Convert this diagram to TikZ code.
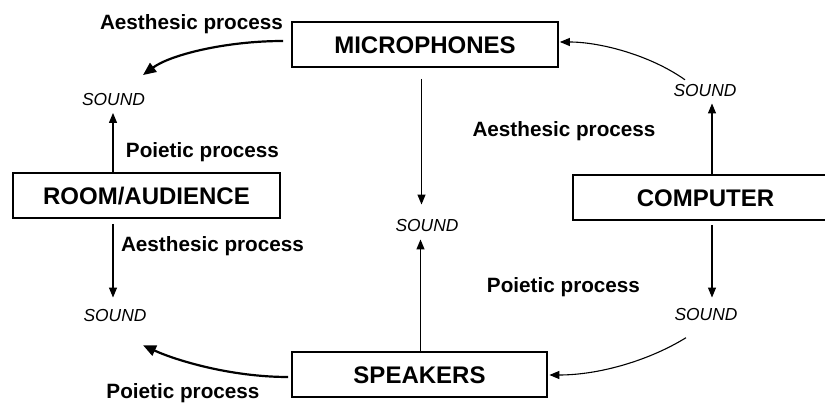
\documentclass[tikz,border=0pt]{standalone}
\usepackage{fontspec}
\setmainfont{Liberation Sans}
\usetikzlibrary{arrows.meta}
\begin{document}
\begin{tikzpicture}[x=1pt,y=-1pt,
 box/.style={draw,line width=1.7pt,font=\fontsize{24}{28}\selectfont\bfseries,text height=17.2pt,text depth=0pt,inner sep=0pt,minimum height=45pt},
 snd/.style={font=\fontsize{17.4}{20}\selectfont\itshape,inner sep=0pt,text height=12.5pt,text depth=0pt},
 lbl/.style={font=\fontsize{20.7}{24}\selectfont\bfseries,inner sep=0pt,anchor=base},
 thinarr/.style={line width=1.1pt,-{Triangle[length=10pt,width=8pt]}},
 thickarr/.style={line width=2.2pt,-{Triangle[length=13pt,width=11pt]}}]
\useasboundingbox (0,0) rectangle (825,403);
% boxes
\node[box,minimum width=266pt] (mic) at (425,44.5) {MICROPHONES};
\node[box,minimum width=255pt] (spk) at (419.5,374.5) {SPEAKERS};
\node[box,minimum width=267pt] (room) at (146.5,195.5) {ROOM/AUDIENCE};
\node[box,minimum width=265pt] (comp) at (705.5,197.5) {COMPUTER};
% sounds
\node[snd] (s1) at (113.5,99.5) {SOUND};
\node[snd] (s2) at (705,90) {SOUND};
\node[snd] (s3) at (427,225) {SOUND};
\node[snd] (s4) at (115,315) {SOUND};
\node[snd] (s5) at (706,314) {SOUND};
% labels
\node[lbl] (l1) at (191.5,29.5) {Aesthesic process};
\node[lbl] (l2) at (202.5,157.5) {Poietic process};
\node[lbl] (l3) at (212.5,251.5) {Aesthesic process};
\node[lbl] (l4) at (183,399) {Poietic process};
\node[lbl] (l5) at (564,137) {Aesthesic process};
\node[lbl] (l6) at (563.5,293) {Poietic process};
% straight arrows
\draw[thinarr] ([xshift=-0.5pt]s1.south |- room.north) -- ([xshift=-0.5pt,yshift=-7pt]s1.south);
\draw[thinarr] ([xshift=-2pt,yshift=-5pt]s4.north |- room.south) -- ([xshift=-2pt,yshift=11pt]s4.north);
\draw[thinarr] ([xshift=-5.5pt,yshift=-11pt]s3.north |- mic.south) -- ([xshift=-5.5pt,yshift=14pt]s3.north);
\draw[thinarr] ([xshift=-6.5pt]s3.south |- spk.north) -- ([xshift=-6.5pt,yshift=-8pt]s3.south);
\draw[thinarr] ([xshift=7pt]s2.south |- comp.north) -- ([xshift=7pt,yshift=-7pt]s2.south);
\draw[thinarr] ([xshift=6pt,yshift=-4pt]s5.north |- comp.south) -- ([xshift=6pt,yshift=10pt]s5.north);
% curved arrows
\draw[thickarr] ([xshift=-8pt,yshift=3.5pt]mic.west) .. controls (225,41) and (170,55) .. ([xshift=29.5pt,yshift=18pt]s1.north);
\draw[thinarr] ([xshift=-20pt,yshift=3.75pt]s2.north) .. controls (650,55) and (600,42) .. ([xshift=1pt,yshift=2.5pt]mic.east);
\draw[thickarr] ([xshift=-3pt,yshift=-2.5pt]spk.west) .. controls (230,377) and (175,360) .. ([xshift=28pt,yshift=-23.75pt]s4.south);
\draw[thinarr] ([xshift=-20pt,yshift=-17.25pt]s5.south) .. controls (650,360) and (600,375) .. ([xshift=1.5pt,yshift=-0.5pt]spk.east);
\end{tikzpicture}
\end{document}
